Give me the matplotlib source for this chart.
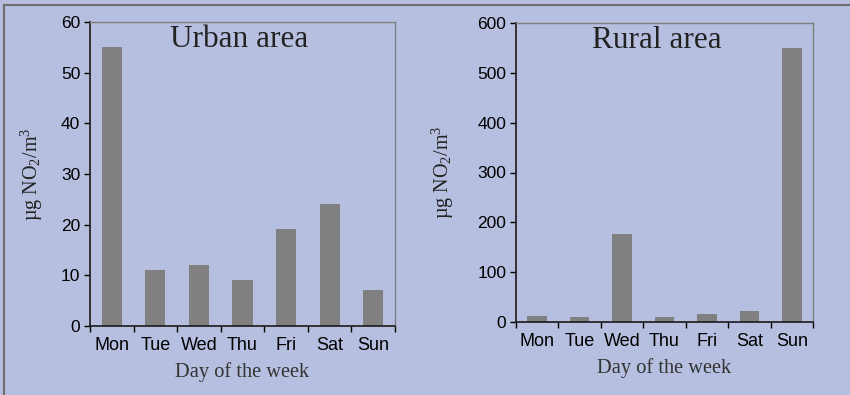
import matplotlib
matplotlib.use("Agg")
import matplotlib.pyplot as plt
from matplotlib.lines import Line2D
import numpy as np

# ── Data ──────────────────────────────────────────────────────────────────────
DAYS  = ["Mon", "Tue", "Wed", "Thu", "Fri", "Sat", "Sun"]
URBAN = [55.1, 11.1, 12.0, 9.1, 19.1, 24.1, 7.1]
RURAL = [11.4, 9.4, 176, 9.4, 15.4, 21.4, 550]

# ── Style ─────────────────────────────────────────────────────────────────────
BG       = "#b6bfdf"
BAR      = "#808080"
SERIF    = "Liberation Serif"
SANS     = "Liberation Sans"

plt.rcParams.update({
    "font.family":       SANS,
    "mathtext.fontset":  "custom",
    "mathtext.rm":       SERIF,
    "mathtext.it":       SERIF + ":italic",
    "mathtext.bf":       SERIF + ":bold",
})

fig = plt.figure(figsize=(8.5, 3.95), dpi=100, facecolor=BG)
W, H = 850, 395


def panel(rect, values, ymax, step, title, title_x, ylabel_x):
    x0, y0, x1, y1 = rect
    ax = fig.add_axes([x0 / W, 1 - y1 / H, (x1 - x0) / W, (y1 - y0) / H])
    ax.set_facecolor(BG)
    x = np.arange(len(DAYS))
    ax.bar(x, values, width=0.46, color=BAR, edgecolor="none")
    ax.set_xlim(-0.5, len(DAYS) - 0.5)
    ax.set_ylim(0, ymax)
    ax.set_yticks(np.arange(0, ymax + 1, step))
    ax.set_xticks(x)
    ax.set_xticklabels(DAYS)
    ax.set_xticks(np.arange(-0.5, len(DAYS), 1), minor=True)
    ax.tick_params(axis="x", which="major", length=0, pad=8, labelsize=13)
    ax.tick_params(axis="x", which="minor", length=4, width=1, direction="out")
    ax.tick_params(axis="y", length=4, width=1, direction="out", pad=3, labelsize=12.5)
    for s in ("left", "bottom"):
        ax.spines[s].set_color("#1a1a1a")
        ax.spines[s].set_linewidth(1.2)
    for s in ("top", "right"):
        ax.spines[s].set_color("#7f7f7f")
        ax.spines[s].set_linewidth(1.0)
    ax.text(title_x, 0.99, title, transform=ax.transAxes, ha="center", va="top",
            fontsize=22.5, family=SERIF, color="#222222")
    ax.set_xlabel("Day of the week", family=SERIF, fontsize=14.7,
                  color="#333333", labelpad=6)
    ax.set_ylabel(r"µg NO$_2$/m$^3$", family=SERIF, fontsize=14.5, color="#222222")
    ax.yaxis.set_label_coords((ylabel_x - x0) / (x1 - x0), 0.5)
    return ax


panel((90, 22, 395, 326), URBAN, 60, 10, "Urban area", 0.49, 45)
panel((516, 23, 813, 322), RURAL, 600, 100, "Rural area", 0.473, 456)

# outer frame (top and left edges)
fig.add_artist(Line2D([4 / W, 4 / W], [0, 1 - 5 / H], color="#6e6e6e", lw=1.5,
                      transform=fig.transFigure))
fig.add_artist(Line2D([4 / W, 1], [1 - 5 / H, 1 - 5 / H], color="#6e6e6e", lw=1.5,
                      transform=fig.transFigure))

fig.savefig("out.png", dpi=100, facecolor=BG)
